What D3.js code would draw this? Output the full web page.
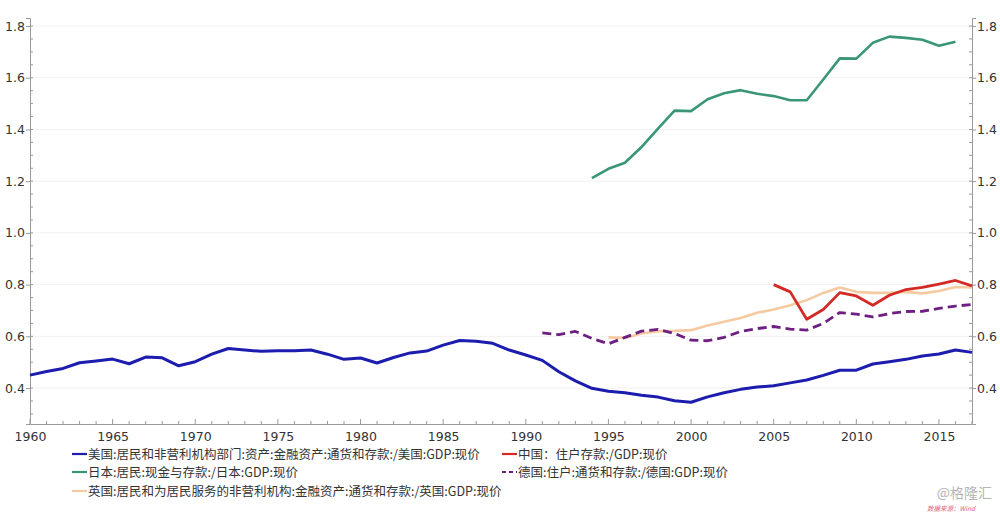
<!DOCTYPE html>
<html><head><meta charset="utf-8">
<script src="https://cdn.jsdelivr.net/npm/d3@7/dist/d3.min.js"></script>
<style>
body{margin:0;background:#fff;}
svg{display:block;font-family:"Noto Sans CJK SC","Liberation Sans",sans-serif;}
</style></head><body>
<svg id="c" width="1000" height="512"></svg>
<script>
const usYears = d3.range(1960, 2018);
const usValues = [0.450,0.464,0.476,0.498,0.505,0.512,0.494,0.520,0.517,0.486,
  0.502,0.531,0.553,0.547,0.542,0.544,0.544,0.547,0.531,0.511,
  0.516,0.497,0.518,0.536,0.543,0.566,0.584,0.581,0.573,0.547,
  0.528,0.507,0.463,0.428,0.399,0.388,0.382,0.372,0.365,0.351,
  0.345,0.366,0.382,0.395,0.404,0.409,0.420,0.431,0.449,0.469,
  0.469,0.493,0.502,0.511,0.524,0.532,0.547,0.538];
const jpYears = d3.range(1994, 2017);
const jpValues = [1.212,1.248,1.271,1.332,1.403,1.473,1.471,1.517,1.540,1.552,
  1.538,1.529,1.513,1.513,1.593,1.675,1.674,1.735,1.759,1.754,1.747,1.724,1.739];
const cnYears = d3.range(2005, 2018);
const cnValues = [0.800,0.772,0.666,0.704,0.769,0.756,0.720,0.759,0.781,0.789,0.802,0.816,0.795];
const deYears = d3.range(1991, 2018);
const deValues = [0.613,0.607,0.619,0.592,0.571,0.596,0.620,0.627,0.611,0.585,
  0.583,0.596,0.619,0.630,0.638,0.628,0.624,0.650,0.692,0.686,
  0.675,0.688,0.696,0.697,0.708,0.717,0.723];
const ukYears = d3.range(1995, 2018);
const ukValues = [0.596,0.594,0.611,0.620,0.621,0.624,0.642,0.656,0.671,0.691,
  0.704,0.720,0.740,0.768,0.789,0.772,0.768,0.768,0.772,0.766,0.775,0.791,0.789];
const seriesNames = [
  "美国:居民和非营利机构部门:资产:金融资产:通货和存款:/美国:GDP:现价",
  "中国：住户存款:/GDP:现价",
  "日本:居民:现金与存款:/日本:GDP:现价",
  "德国:住户:通货和存款:/德国:GDP:现价",
  "英国:居民和为居民服务的非营利机构:金融资产:通货和存款:/英国:GDP:现价"
];
const yTicks = [0.4,0.6,0.8,1.0,1.2,1.4,1.6,1.8];
const xTicks = [1960,1965,1970,1975,1980,1985,1990,1995,2000,2005,2010,2015];

const series = [
  {name:seriesNames[0], years:usYears, values:usValues, color:"#1c1cae", width:3, dash:null},
  {name:seriesNames[2], years:jpYears, values:jpValues, color:"#3a9677", width:2.6, dash:null},
  {name:seriesNames[4], years:ukYears, values:ukValues, color:"#f6caa0", width:2.6, dash:null},
  {name:seriesNames[3], years:deYears, values:deValues, color:"#6e1f82", width:2.8, dash:"9,5"},
  {name:seriesNames[1], years:cnYears, values:cnValues, color:"#d22b26", width:2.8, dash:null}
];

const svg = d3.select("#c");
const L = 30, R = 972, T = 18, B = 424;
const x = d3.scaleLinear().domain([1960, 2017]).range([L, R]);
const y = d3.scaleLinear().domain([0.261, 1.831]).range([B, T]);

// gridlines
svg.append("g").selectAll("line").data(yTicks).join("line")
  .attr("x1", L).attr("x2", R).attr("y1", d=>y(d)).attr("y2", d=>y(d))
  .attr("stroke", "#f1f1f1").attr("stroke-width", 1);

const axisColor = "#9a9a9a";
const fmt = d3.format(".1f");
const la = svg.append("g").attr("transform", `translate(${L},0)`)
  .call(d3.axisLeft(y).tickValues(yTicks).tickFormat(fmt).tickSize(4).tickPadding(1));
const ra = svg.append("g").attr("transform", `translate(${R},0)`)
  .call(d3.axisRight(y).tickValues(yTicks).tickFormat(fmt).tickSize(4).tickPadding(1));
const ba = svg.append("g").attr("transform", `translate(0,${B})`)
  .call(d3.axisBottom(x).tickValues(xTicks).tickFormat(d3.format("d")).tickSize(0).tickPadding(8));
[la, ra, ba].forEach(g => {
  g.select(".domain").attr("stroke", axisColor);
  g.selectAll(".tick line").attr("stroke", axisColor);
  g.selectAll("text").attr("fill", "#333").style("font-size", "12.5px")
    .style("font-family", "'DejaVu Sans', sans-serif");
});
const yMinor = d3.range(0.3, 1.83, 0.05).map(v=>+v.toFixed(2));
[L, R].forEach(ax => {
  svg.append("g").selectAll("line").data(yMinor).join("line")
    .attr("x1", ax === L ? L : R - 3).attr("x2", ax === L ? L + 3 : R)
    .attr("y1", d=>y(d)).attr("y2", d=>y(d)).attr("stroke", axisColor);
});
svg.append("g").selectAll("line").data(d3.range(1960, 2018)).join("line")
  .attr("x1", d=>x(d)).attr("x2", d=>x(d))
  .attr("y1", B).attr("y2", d => d % 5 === 0 ? B - 5 : B - 3)
  .attr("stroke", axisColor);

const line = d3.line().x(d=>x(d[0])).y(d=>y(d[1])).curve(d3.curveLinear);
series.forEach(s => {
  svg.append("path").datum(s.years.map((yr,i)=>[yr, s.values[i]]))
    .attr("d", line).attr("fill", "none").attr("stroke", s.color)
    .attr("stroke-width", s.width).attr("stroke-linejoin", "round")
    .attr("stroke-dasharray", s.dash);
});

const legendItems = [
  {name:seriesNames[0], color:"#1c1cae", dash:null, x:72, y:454},
  {name:seriesNames[1], color:"#d22b26", dash:null, x:502, y:454},
  {name:seriesNames[2], color:"#3a9677", dash:null, x:72, y:472},
  {name:seriesNames[3], color:"#6e1f82", dash:"4,3", x:502, y:472},
  {name:seriesNames[4], color:"#f6caa0", dash:null, x:72, y:491}
];
const lg = svg.append("g");
legendItems.forEach(it => {
  lg.append("line").attr("x1", it.x).attr("x2", it.x + 15).attr("y1", it.y).attr("y2", it.y)
    .attr("stroke", it.color).attr("stroke-width", 2.2).attr("stroke-dasharray", it.dash);
  lg.append("text").attr("x", it.x + 16).attr("y", it.y + 4.5).text(it.name)
    .attr("fill", "#333").style("font-size", "12.5px");
});

svg.append("text").attr("x", 992).attr("y", 498).attr("text-anchor", "end")
  .text("@格隆汇").attr("fill", "#b5b5b5").style("font-size", "14px");
svg.append("text").attr("x", 975).attr("y", 511).attr("text-anchor", "end")
  .text("数据来源：Wind").attr("fill", "#e0607a").style("font-size", "6.5px").style("font-style", "italic");
</script>
</body></html>
